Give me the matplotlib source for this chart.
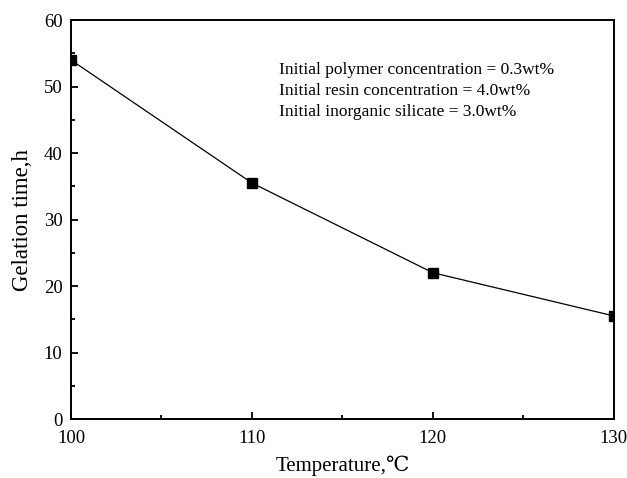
import matplotlib
matplotlib.use("Agg")
import matplotlib.pyplot as plt
from matplotlib.ticker import MultipleLocator

temperature = [100, 110, 120, 130]
gelation_time = [54, 35.5, 22, 15.5]
notes = ["Initial polymer concentration = 0.3wt%",
         "Initial resin concentration = 4.0wt%",
         "Initial inorganic silicate = 3.0wt%"]

plt.rcParams['font.family'] = ['Liberation Serif', 'DejaVu Serif', 'Noto Sans CJK SC']

fig = plt.figure(figsize=(6.27, 4.78), dpi=100)
ax = fig.add_axes([0.1132, 0.1234, 0.979 - 0.1132, 0.958 - 0.1234])

ax.plot(temperature, gelation_time, color='black', lw=0.9, marker='s', markersize=6.5)
ax.set_xlim(100, 130)
ax.set_ylim(0, 60)
ax.xaxis.set_major_locator(MultipleLocator(10))
ax.xaxis.set_minor_locator(MultipleLocator(5))
ax.yaxis.set_major_locator(MultipleLocator(10))
ax.yaxis.set_minor_locator(MultipleLocator(5))
ax.tick_params(which='both', direction='in', top=False, right=False, width=1.3, labelsize=13.5)
ax.tick_params(axis='x', which='major', length=5, pad=8)
ax.tick_params(axis='y', which='major', length=5, pad=6)
ax.tick_params(which='minor', length=3)
for s in ax.spines.values():
    s.set_linewidth(1.4)

ax.set_xlabel('Temperature,℃', fontsize=15, labelpad=6)
ax.set_ylabel('Gelation time,h', fontsize=16.5, labelpad=8)

for i, t in enumerate(notes):
    ax.text(0.384, 0.875 - i * 0.0525, t, transform=ax.transAxes, fontsize=12.5, va='center', ha='left')

fig.savefig('out.png', dpi=100)
